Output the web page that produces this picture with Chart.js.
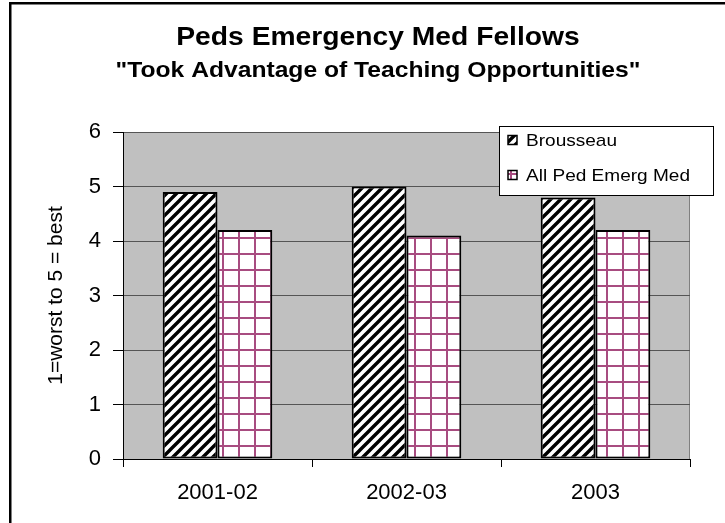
<!DOCTYPE html>
<html>
<head>
<meta charset="utf-8">
<script src="https://cdn.jsdelivr.net/npm/chart.js@4/dist/chart.umd.min.js"></script>
<style>
  html, body { margin: 0; padding: 0; background: #ffffff; }
  #wrap { width: 725px; height: 523px; position: relative; }
</style>
</head>
<body>
<div id="wrap"><canvas id="c" width="725" height="523"></canvas></div>
<script>
// ---- data ----
const categories = ['2001-02', '2002-03', '2003'];
const seriesNames = ['Brousseau', 'All Ped Emerg Med'];
const brousseau = [4.9, 5.0, 4.8];
const allPedEmergMed = [4.2, 4.1, 4.2];
const yMin = 0;
const yMax = 6;
const yStep = 1;
const titleText = 'Peds Emergency Med Fellows';
const subtitleText = '"Took Advantage of Teaching Opportunities"';
const yAxisTitle = '1=worst to 5 = best';

// ---- patterns ----
function stripePattern() {
  const s = 10;
  const cv = document.createElement('canvas');
  cv.width = s; cv.height = s;
  const g = cv.getContext('2d');
  g.fillStyle = '#ffffff';
  g.fillRect(0, 0, s, s);
  g.strokeStyle = '#000000';
  g.lineWidth = 3.4;
  g.beginPath();
  g.moveTo(-2, s + 2); g.lineTo(s + 2, -2);
  g.moveTo(-2, 2); g.lineTo(2, -2);
  g.moveTo(s - 2, s + 2); g.lineTo(s + 2, s - 2);
  g.stroke();
  return g.createPattern(cv, 'repeat');
}
function gridPattern() {
  const s = 16;
  const cv = document.createElement('canvas');
  cv.width = s; cv.height = s;
  const g = cv.getContext('2d');
  g.fillStyle = '#ffffff';
  g.fillRect(0, 0, s, s);
  g.fillStyle = '#A84C80';
  g.fillRect(14, 0, 2, s);
  g.fillRect(0, 13, s, 2);
  return g.createPattern(cv, 'repeat');
}
const stripe = stripePattern();
const grid = gridPattern();

const FONT = '"Liberation Sans", Arial, sans-serif';

function stretchedText(ctx, text, x, y, sx) {
  ctx.save();
  ctx.translate(x, y);
  ctx.scale(sx, 1);
  ctx.fillText(text, 0, 0);
  ctx.restore();
}

const decor = {
  id: 'decor',
  beforeDraw(chart) {
    const ctx = chart.ctx;
    const a = chart.chartArea;
    ctx.save();
    ctx.fillStyle = '#ffffff';
    ctx.fillRect(0, 0, chart.width, chart.height);
    // outer frame
    ctx.fillStyle = '#000000';
    ctx.fillRect(9, 2, 2.5, chart.height);
    ctx.fillRect(9, 2, chart.width, 2.5);
    // plot background
    ctx.fillStyle = '#C0C0C0';
    ctx.fillRect(a.left, a.top, a.right - a.left, a.bottom - a.top);
    ctx.strokeStyle = '#808080';
    ctx.lineWidth = 1;
    ctx.beginPath();
    ctx.moveTo(a.right - 0.5, a.top);
    ctx.lineTo(a.right - 0.5, a.bottom);
    ctx.stroke();
    ctx.restore();
  },
  afterDraw(chart) {
    const ctx = chart.ctx;
    ctx.save();
    // titles
    ctx.fillStyle = '#000000';
    ctx.textAlign = 'center';
    ctx.textBaseline = 'alphabetic';
    ctx.font = 'bold 25px ' + FONT;
    stretchedText(ctx, titleText, 378, 45, 1.13);
    ctx.font = 'bold 22px ' + FONT;
    stretchedText(ctx, subtitleText, 378, 77, 1.12);
    // legend
    const lx = 499, ly = 126, lw = 214, lh = 69;
    ctx.fillStyle = '#ffffff';
    ctx.fillRect(lx, ly, lw, lh);
    ctx.strokeStyle = '#000000';
    ctx.lineWidth = 1;
    ctx.strokeRect(lx + 0.5, ly + 0.5, lw, lh);
    const rows = [140, 175];
    chart.data.datasets.forEach((ds, i) => {
      const y = rows[i];
      ctx.fillStyle = ds.backgroundColor;
      ctx.fillRect(508, y - 4.5, 9, 9);
      ctx.strokeStyle = '#000000';
      ctx.lineWidth = 1.5;
      ctx.strokeRect(508, y - 4.5, 9, 9);
      ctx.fillStyle = '#000000';
      ctx.textAlign = 'left';
      ctx.textBaseline = 'middle';
      ctx.font = '17px ' + FONT;
      stretchedText(ctx, ds.label, 526, y + 1, 1.12);
    });
    ctx.restore();
  }
};

new Chart(document.getElementById('c'), {
  type: 'bar',
  data: {
    labels: categories,
    datasets: [
      { label: seriesNames[0], data: brousseau, backgroundColor: stripe, borderColor: '#000000', borderWidth: 2, borderSkipped: false },
      { label: seriesNames[1], data: allPedEmergMed, backgroundColor: grid, borderColor: '#000000', borderWidth: 2, borderSkipped: false }
    ]
  },
  options: {
    responsive: false,
    animation: false,
    devicePixelRatio: 1,
    categoryPercentage: 0.58,
    barPercentage: 1.0,
    layout: { padding: { left: 14, right: 35, top: 132, bottom: 0 } },
    plugins: {
      legend: { display: false },
      title: { display: false },
      tooltip: { enabled: false }
    },
    scales: {
      x: {
        afterFit(s) { s.height = 64; },
        grid: { display: true, drawOnChartArea: false, drawTicks: true, tickLength: 8, color: '#000000', offset: true },
        border: { display: true, color: '#000000', width: 1 },
        ticks: { color: '#000000', font: { family: FONT, size: 22 }, padding: 13 }
      },
      y: {
        min: yMin, max: yMax,
        afterFit(s) { s.width = 109; },
        ticks: { stepSize: yStep, color: '#000000', font: { family: FONT, size: 22 }, padding: 12 },
        grid: { color: '#555555', lineWidth: 1, drawTicks: true, tickLength: 10, tickColor: '#000000' },
        border: { display: true, color: '#000000', width: 1 },
        title: { display: true, text: yAxisTitle, color: '#000000', font: { family: FONT, size: 21 }, padding: { top: 30, bottom: 0 } }
      }
    }
  },
  plugins: [decor]
});
</script>
</body>
</html>
